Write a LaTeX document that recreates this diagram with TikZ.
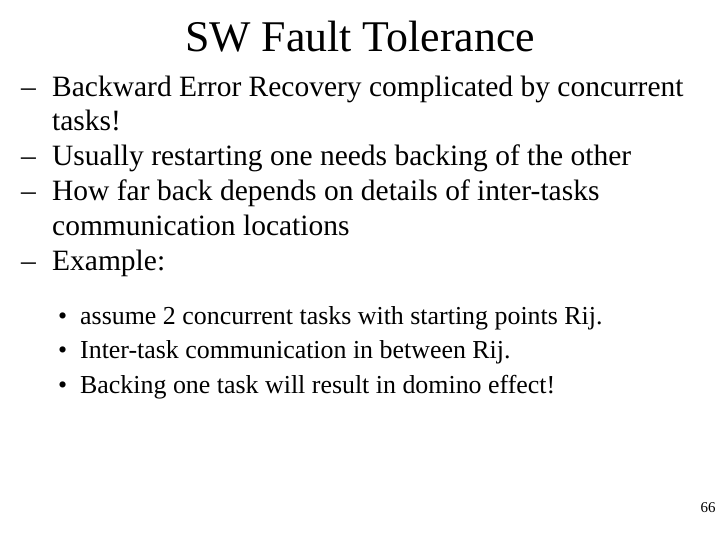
\documentclass[tikz,border=0pt]{standalone}
\usepackage{fontspec}
\setmainfont{Liberation Serif}
\begin{document}
\begin{tikzpicture}[x=1bp,y=-1bp,
  body/.style={anchor=base west,inner sep=0pt,font=\fontsize{29.6}{34}\selectfont},
  sub/.style={anchor=base west,inner sep=0pt,font=\fontsize{26}{30}\selectfont}]
\useasboundingbox[fill=white] (0,0) rectangle (720,540);
\node[anchor=base,inner sep=0pt,font=\fontsize{44}{50}\selectfont] (title) at (360,52) {SW Fault Tolerance};
\node[body] (d1) at (21,97) {–};
\node[body] (l1) at (52,97) {Backward Error Recovery complicated by concurrent};
\node[body] (l1b) at (52,131) {tasks!};
\node[body] (d2) at (21,166) {–};
\node[body] (l2) at (52,166) {Usually restarting one needs backing of the other};
\node[body] (d3) at (21,201) {–};
\node[body] (l3) at (52,201) {How far back depends on details of inter-tasks};
\node[body] (l3b) at (52,236) {communication locations};
\node[body] (d4) at (21,271) {–};
\node[body] (l4) at (52,271) {Example:};
\node[sub] (b1) at (58,324) {•};
\node[sub] (s1) at (80,324) {assume 2 concurrent tasks with starting points Rij.};
\node[sub] (b2) at (58,358) {•};
\node[sub] (s2) at (80,358) {Inter-task communication in between Rij.};
\node[sub] (b3) at (58,393) {•};
\node[sub] (s3) at (80,393) {Backing one task will result in domino effect!};
\node[anchor=base,inner sep=0pt,font=\fontsize{15}{17}\selectfont] (pg) at (708,512) {66};
\end{tikzpicture}
\end{document}
